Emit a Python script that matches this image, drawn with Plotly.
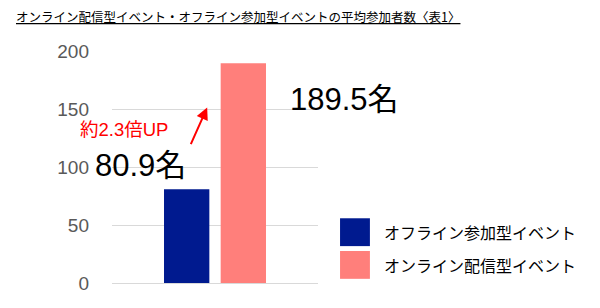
import plotly.graph_objects as go

title_text = "オンライン配信型イベント・オフライン参加型イベントの平均参加者数〈表1〉"
series_names = ["オフライン参加型イベント", "オンライン配信型イベント"]
series_values = [80.9, 189.5]
series_colors = ["#001A8F", "#FF7F7B"]
category = [""]
y_ticks = [0, 50, 100, 150, 200]

fig = go.Figure()
for name, val, col in zip(series_names, series_values, series_colors):
    fig.add_trace(go.Bar(x=category, y=[val], name=name, marker_color=col,
                         marker_line_width=0, showlegend=False))

ratio = round(series_values[1] / series_values[0], 1)
LAB = "Liberation Sans, Arial, Noto Sans CJK JP"
JP = "Noto Sans CJK JP, Liberation Sans"

anns = [
    dict(text=title_text, xref="paper", yref="paper", x=-0.475, y=1.148, xanchor="left", yanchor="middle",
         showarrow=False, font=dict(family=JP, size=12.5, color="#000000", lineposition="under")),
    dict(text=f"{series_values[0]}名", xref="paper", yref="y", x=0.136, y=101.5, xanchor="center",
         yanchor="middle", showarrow=False, font=dict(family=LAB, size=31, color="#000000")),
    dict(text=f"{series_values[1]}名", xref="paper", yref="y", x=1.131, y=158.5, xanchor="center",
         yanchor="middle", showarrow=False, font=dict(family=LAB, size=31, color="#000000")),
    dict(text=f"約{ratio}倍UP", xref="paper", yref="y", x=0.058, y=132, xanchor="center",
         yanchor="middle", showarrow=False, font=dict(family=LAB, size=18.5, color="#FF0000")),
    dict(text="", xref="paper", yref="y", x=0.462, y=151.2, ax=-17, ay=38,
         showarrow=True, arrowhead=2, arrowsize=1.2, arrowwidth=2, arrowcolor="#FF0000"),
]
# custom legend
legend_y = [0.219, 0.078]
for name, col, ly in zip(series_names, series_colors, legend_y):
    fig.add_shape(type="rect", xref="paper", yref="paper", x0=1.107, x1=1.252, y0=ly - 0.06, y1=ly + 0.06,
                  fillcolor=col, line_width=0)
    anns.append(dict(text=name, xref="paper", yref="paper", x=1.313, y=ly, xanchor="left", yanchor="middle",
                     showarrow=False, font=dict(family=JP, size=16, color="#000000")))

fig.update_layout(
    width=600, height=308, margin=dict(l=112, r=282, t=51, b=25),
    paper_bgcolor="white", plot_bgcolor="white",
    barmode="group", bargap=0.45, bargroupgap=0.2,
    annotations=anns,
    xaxis=dict(showticklabels=False, showgrid=False, zeroline=False, showline=False, fixedrange=True),
    yaxis=dict(range=[0, 200], tickvals=y_ticks, showgrid=True, gridcolor="#D9D9D9", gridwidth=1,
               zeroline=True, zerolinecolor="#D9D9D9", zerolinewidth=1, showline=False,
               tickfont=dict(family="Liberation Sans, Arial", size=19, color="#595959"),
               ticklabelstandoff=22, ticks=""),
)
fig.write_html("out.html")
